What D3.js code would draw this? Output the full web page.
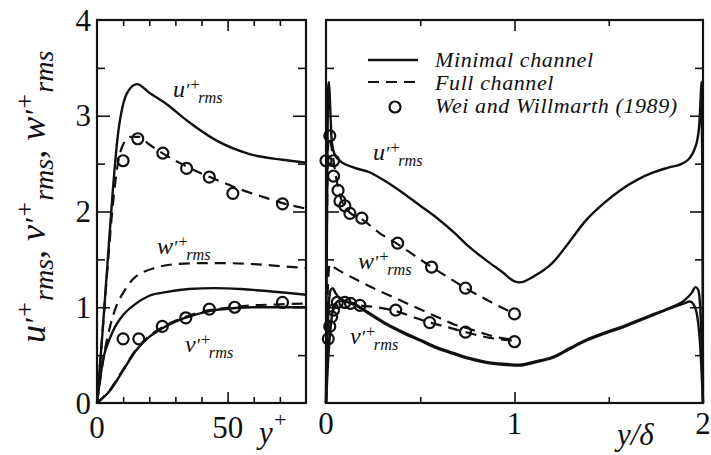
<!DOCTYPE html>
<html>
<head>
<meta charset="utf-8">
<script src="https://cdn.jsdelivr.net/npm/d3@7"></script>
<style>
  body { margin: 0; background: #fff; }
</style>
</head>
<body>
<div id="chart"></div>
<script>
// ---- left panel: wall units y+ ----
const minU_L = [[0,0],[2,0.7],[4,1.45],[6,2.2],[8,2.8],[10,3.12],[12,3.26],[15.3,3.33],[20,3.24],[26.7,3.12],[34.4,2.95],[45.8,2.74],[58.4,2.6],[71,2.54],[80,2.51]];
const fullU_L = [[0,0],[2,0.7],[4,1.4],[6,2.05],[8,2.5],[10,2.7],[13,2.78],[16,2.78],[20,2.7],[25,2.61],[35,2.46],[45,2.34],[55,2.23],[65,2.14],[72,2.08],[80,2.03]];
const fullW_L = [[0,0],[3,0.55],[5,0.8],[7.5,1.02],[10,1.15],[14,1.3],[18,1.37],[22,1.41],[30,1.45],[40,1.46],[50,1.46],[60,1.45],[70,1.43],[80,1.41]];
const minW_L = [[0,0],[2.3,0.45],[5,0.68],[7,0.8],[10,0.92],[14,1.02],[20,1.12],[27,1.16],[35,1.19],[45,1.2],[55,1.19],[65,1.17],[80,1.13]];
const minV_L = [[0,0],[5,0.13],[10,0.34],[15,0.55],[20,0.69],[25,0.78],[30,0.85],[35,0.9],[43,0.96],[52,0.99],[60,1.0],[70,1.0],[80,1.0]];
const fullV_L = [[0,0],[5,0.14],[10,0.35],[15,0.56],[20,0.7],[25,0.79],[30,0.86],[35,0.91],[43,0.97],[52,1.0],[60,1.02],[70,1.03],[80,1.04]];
const expU_L = [[10,2.53],[15.6,2.76],[25.2,2.61],[34.3,2.45],[43,2.36],[52,2.19],[71,2.08]];
const expV_L = [[10,0.67],[16,0.67],[25,0.8],[34,0.89],[43,0.98],[52.7,1.0],[71,1.05]];

// ---- right panel: outer units y/delta ----
const minU_R = [[0,0],[0.004,1.5],[0.008,2.7],[0.012,3.3],[0.016,3.35],[0.022,3.1],[0.03,2.75],[0.045,2.6],[0.074,2.53],[0.145,2.46],[0.23,2.41],[0.32,2.31],[0.41,2.19],[0.5,2.06],[0.59,1.93],[0.68,1.78],[0.76,1.63],[0.85,1.49],[0.94,1.36],[1.0,1.27],[1.03,1.26],[1.1,1.32],[1.2,1.46],[1.29,1.68],[1.38,1.91],[1.47,2.08],[1.56,2.22],[1.65,2.33],[1.74,2.41],[1.82,2.46],[1.89,2.5],[1.93,2.56],[1.955,2.65],[1.97,2.75],[1.98,2.9],[1.988,3.2],[1.992,3.35],[1.996,2.5],[2.0,0]];
const minW_R = [[0,0],[0.008,0.7],[0.015,1.05],[0.025,1.18],[0.035,1.2],[0.05,1.15],[0.074,1.09],[0.145,1.04],[0.23,0.94],[0.32,0.83],[0.41,0.74],[0.5,0.66],[0.59,0.58],[0.68,0.52],[0.76,0.47],[0.85,0.43],[0.94,0.41],[1.03,0.4],[1.1,0.43],[1.2,0.48],[1.29,0.57],[1.38,0.66],[1.47,0.73],[1.56,0.79],[1.65,0.86],[1.74,0.93],[1.83,1.0],[1.9,1.07],[1.94,1.15],[1.96,1.21],[1.975,1.18],[1.985,1.0],[1.993,0.6],[2.0,0]];
const minV_R = [[0,0],[0.01,0.4],[0.025,0.8],[0.04,1.0],[0.055,1.05],[0.074,1.07],[0.145,1.03],[0.23,0.93],[0.32,0.82],[0.41,0.73],[0.5,0.65],[0.59,0.57],[0.68,0.51],[0.76,0.46],[0.85,0.42],[0.94,0.4],[1.03,0.39],[1.1,0.42],[1.2,0.47],[1.29,0.56],[1.38,0.65],[1.47,0.72],[1.56,0.78],[1.65,0.85],[1.74,0.92],[1.83,0.99],[1.9,1.04],[1.93,1.06],[1.95,1.03],[1.97,0.9],[1.985,0.6],[2.0,0]];
const fullU_R = [[0,0],[0.005,1.8],[0.01,2.6],[0.015,2.78],[0.022,2.75],[0.035,2.6],[0.05,2.4],[0.07,2.2],[0.09,2.08],[0.12,2.0],[0.19,1.92],[0.28,1.78],[0.38,1.66],[0.47,1.54],[0.56,1.42],[0.65,1.31],[0.74,1.2],[0.87,1.06],[1.0,0.93]];
const fullW_R = [[0,0],[0.005,0.8],[0.012,1.3],[0.02,1.45],[0.04,1.42],[0.1,1.35],[0.17,1.28],[0.25,1.2],[0.34,1.12],[0.43,1.04],[0.52,0.96],[0.6,0.89],[0.68,0.82],[0.75,0.78],[0.83,0.73],[0.9,0.69],[1.0,0.66]];
const fullV_R = [[0,0],[0.01,0.5],[0.025,0.85],[0.045,1.0],[0.07,1.05],[0.1,1.06],[0.18,1.02],[0.27,1.0],[0.37,0.96],[0.46,0.9],[0.55,0.84],[0.65,0.79],[0.74,0.74],[0.87,0.68],[1.0,0.65]];
const expU_R = [[0.02,2.79],[0.0,2.53],[0.04,2.53],[0.04,2.37],[0.064,2.22],[0.074,2.11],[0.1,2.06],[0.127,1.98],[0.19,1.93],[0.38,1.67],[0.56,1.42],[0.74,1.2],[1.0,0.93]];
const expV_R = [[0.012,0.67],[0.02,0.8],[0.03,0.9],[0.04,0.97],[0.06,1.05],[0.1,1.05],[0.13,1.04],[0.18,1.02],[0.37,0.97],[0.55,0.84],[0.74,0.74],[1.0,0.64]];

const yTicks = [0.5,1,1.5,2,2.5,3,3.5];
const yLabels = [0,1,2,3,4];
const xTicksL = [10,20,30,40,50,60,70];
const xTicksR = [0.5,1,1.5];
const legendItems = ["Minimal channel", "Full channel", "Wei and Willmarth (1989)"];

const W = 711, H = 455;
const FONT = "Liberation Serif";
const svg = d3.select("#chart").append("svg")
  .attr("width", W).attr("height", H)
  .attr("font-family", FONT);

const y = d3.scaleLinear().domain([0, 4]).range([403, 20]);
const xL = d3.scaleLinear().domain([0, 80]).range([97, 306]);
const xR = d3.scaleLinear().domain([0, 2]).range([326, 703]);

const ink = "#111";

function drawFrame(x, xt, majorX) {
  const [x0, x1] = x.range();
  const g = svg.append("g");

  const bot = g.append("g").attr("transform", `translate(0,${y(0)})`)
    .call(d3.axisBottom(x).tickValues(xt).tickSize(-6).tickFormat(""));
  bot.selectAll(".tick line").attr("y2", d => d === majorX ? -11 : -6);
  const top = g.append("g").attr("transform", `translate(0,${y(4)})`)
    .call(d3.axisTop(x).tickValues(xt).tickSize(-6).tickFormat(""));
  top.selectAll(".tick line").attr("y2", d => d === majorX ? 11 : 6);

  const lft = g.append("g").attr("transform", `translate(${x0},0)`)
    .call(d3.axisLeft(y).tickValues(yTicks).tickSize(-8).tickFormat(""));
  lft.selectAll(".tick line").attr("x2", d => d % 1 === 0 ? 13 : 8);
  const rgt = g.append("g").attr("transform", `translate(${x1},0)`)
    .call(d3.axisRight(y).tickValues(yTicks).tickSize(-8).tickFormat(""));
  rgt.selectAll(".tick line").attr("x2", d => d % 1 === 0 ? -13 : -8);

  g.selectAll(".domain").remove();
  g.selectAll(".tick line").attr("stroke", ink).attr("stroke-width", 1.6);

  g.append("rect")
    .attr("x", x0).attr("y", y(4))
    .attr("width", x1 - x0).attr("height", y(0) - y(4))
    .attr("fill", "none").attr("stroke", ink).attr("stroke-width", 2.2);
}

drawFrame(xL, xTicksL, 50);
drawFrame(xR, xTicksR, 1);

function curve(x, data, dashed) {
  const line = d3.line().x(d => x(d[0])).y(d => y(d[1])).curve(d3.curveMonotoneX);
  svg.append("path").datum(data)
    .attr("d", line)
    .attr("fill", "none")
    .attr("stroke", ink)
    .attr("stroke-width", dashed ? 2.2 : 2.4)
    .attr("stroke-dasharray", dashed ? "11,7" : null)
    .attr("stroke-linejoin", "round");
}

function dots(x, data) {
  svg.append("g").selectAll("circle").data(data).join("circle")
    .attr("cx", d => x(d[0])).attr("cy", d => y(d[1]))
    .attr("r", 5.5)
    .attr("fill", "none").attr("stroke", ink).attr("stroke-width", 2.2);
}

// left
[minU_L, minW_L, minV_L].forEach(s => curve(xL, s, false));
[fullU_L, fullW_L, fullV_L].forEach(s => curve(xL, s, true));
dots(xL, expU_L);
dots(xL, expV_L);

// right
[minU_R, minW_R, minV_R].forEach(s => curve(xR, s, false));
[fullU_R, fullW_R, fullV_R].forEach(s => curve(xR, s, true));
dots(xR, expU_R);
dots(xR, expV_R);

// curve labels like u'+_rms
function compLabel(px, py, c, fs) {
  const t = svg.append("text").attr("x", px).attr("y", py).attr("fill", ink)
    .attr("font-family", FONT).attr("font-style", "italic").attr("font-size", fs);
  t.append("tspan").text(c);
  t.append("tspan").attr("font-size", fs * 0.8).text("′");
  t.append("tspan").attr("font-size", fs * 0.7).attr("dy", -fs * 0.3).text("+");
  t.append("tspan").attr("font-size", fs * 0.68).attr("dy", fs * 0.55).attr("dx", -fs * 0.1).text("rms");
}
compLabel(173, 97, "u", 24);
compLabel(157, 254, "w", 24);
compLabel(185, 352, "v", 24);
compLabel(373, 160, "u", 24);
compLabel(358, 269, "w", 24);
compLabel(350, 344, "v", 24);

// tick labels
svg.append("g").selectAll("text").data(yLabels).join("text")
  .attr("x", 91).attr("y", d => y(d)).attr("dy", "0.34em").attr("fill", ink)
  .attr("text-anchor", "end").attr("font-size", 31).text(d => d);

svg.append("g").selectAll("text").data([0, 50]).join("text")
  .attr("x", d => xL(d)).attr("y", 438).attr("fill", ink)
  .attr("text-anchor", "middle").attr("font-size", 31).text(d => d);
svg.append("g").selectAll("text").data([0, 1, 2]).join("text")
  .attr("x", d => xR(d)).attr("y", 434).attr("fill", ink)
  .attr("text-anchor", "middle").attr("font-size", 31).text(d => d);

// x titles
const yp = svg.append("text").attr("x", 259).attr("y", 443).attr("font-size", 31).attr("font-style", "italic").attr("fill", ink);
yp.append("tspan").text("y");
yp.append("tspan").attr("font-size", 22).attr("dy", -16).text("+");
svg.append("text").attr("x", 617).attr("y", 445).attr("font-size", 31).attr("font-style", "italic").attr("fill", ink).text("y/δ");

// y title (rotated)
const yt = svg.append("text").attr("transform", "translate(45,343) rotate(-90)")
  .attr("font-size", 36).attr("font-style", "italic").attr("fill", ink);
[["u", ", "], ["v", ", "], ["w", ""]].forEach(([c, sep]) => {
  yt.append("tspan").text(c);
  yt.append("tspan").attr("font-size", 30).text("′");
  yt.append("tspan").attr("font-size", 26).attr("dy", -12).text("+");
  yt.append("tspan").attr("font-size", 28).attr("dy", 20).text("rms");
  yt.append("tspan").attr("dy", -8).text(sep);
});

// legend
const lg = svg.append("g");
const lx = 368, lw = 50, tx = 435;
const rows = [60, 82, 107];
lg.append("line").attr("x1", lx).attr("x2", lx + lw).attr("y1", rows[0]).attr("y2", rows[0])
  .attr("stroke", ink).attr("stroke-width", 2.4);
lg.append("line").attr("x1", lx).attr("x2", lx + lw).attr("y1", rows[1]).attr("y2", rows[1])
  .attr("stroke", ink).attr("stroke-width", 2.2).attr("stroke-dasharray", "11,7");
lg.append("circle").attr("cx", lx + lw / 2 + 2).attr("cy", rows[2]).attr("r", 5.5)
  .attr("fill", "none").attr("stroke", ink).attr("stroke-width", 2.2);
lg.selectAll("text").data(legendItems).join("text")
  .attr("x", tx).attr("y", (d, i) => [67, 90, 113][i]).attr("fill", ink)
  .attr("font-size", 22).attr("letter-spacing", 0.6)
  .attr("font-style", "italic").text(d => d);
</script>
</body>
</html>
